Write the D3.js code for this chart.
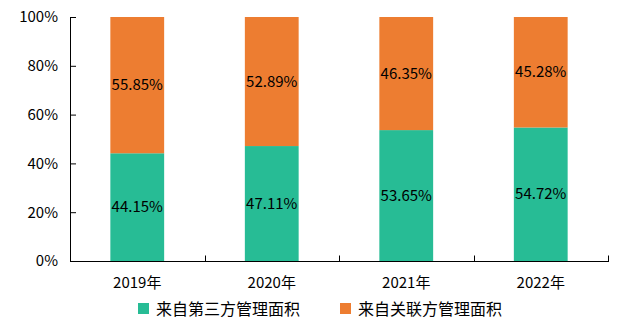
<!DOCTYPE html>
<html>
<head>
<meta charset="utf-8">
<script src="https://cdn.jsdelivr.net/npm/d3@7"></script>
<style>
  html, body { margin: 0; padding: 0; background: #fff; }
  svg text { font-family: "Noto Sans CJK SC", sans-serif; fill: #000; }
</style>
</head>
<body>
<svg id="chart" width="623" height="324"></svg>
<script>
// Share of managed area by source, per year (percent)
const years = ["2019年", "2020年", "2021年", "2022年"];
const thirdParty = [44.15, 47.11, 53.65, 54.72];
const related = [55.85, 52.89, 46.35, 45.28];
const seriesNames = ["来自第三方管理面积", "来自关联方管理面积"];
const yTicks = [0, 20, 40, 60, 80, 100];

const colors = ["#27BC95", "#ED7D31"];

const svg = d3.select("#chart");
const m = { left: 70, right: 608, top: 17, bottom: 261 };

const x = d3.scaleBand().domain(years).range([m.left, m.right]).paddingInner(0.6).paddingOuter(0.3);
const band = d3.scaleBand().domain(years).range([m.left, m.right]);
const y = d3.scaleLinear().domain([0, 100]).range([m.bottom, m.top]);

const rows = years.map((yr, i) => ({ year: yr, third: thirdParty[i], related: related[i] }));
const stacked = d3.stack().keys(["third", "related"])(rows);

// Bars
stacked.forEach((layer, li) => {
  svg.append("g").selectAll("rect").data(layer).join("rect")
    .attr("x", d => x(d.data.year))
    .attr("width", x.bandwidth())
    .attr("y", d => y(d[1]))
    .attr("height", d => y(d[0]) - y(d[1]))
    .attr("fill", colors[li]);
  svg.append("g").selectAll("text").data(layer).join("text")
    .attr("x", d => x(d.data.year) + x.bandwidth() / 2)
    .attr("y", d => (y(d[0]) + y(d[1])) / 2)
    .attr("dy", "0.35em")
    .attr("text-anchor", "middle")
    .style("font-size", "15px")
    .text(d => (d[1] - d[0]).toFixed(2) + "%");
});

// Y axis
const yAxis = d3.axisLeft(y).tickValues(yTicks).tickSize(-6).tickPadding(12).tickFormat(d => d + "%");
const gy = svg.append("g").attr("transform", `translate(${m.left},0)`).call(yAxis);
gy.select(".domain").attr("d", `M0.5,${m.top}V${m.bottom}`).attr("stroke", "#000");
gy.selectAll(".tick line").attr("stroke", "#000");
gy.selectAll(".tick text").style("font-size", "15px").attr("font-family", null);

// X axis with ticks at band boundaries
const gx = svg.append("g").attr("transform", `translate(0,${m.bottom + 0.5})`);
gx.append("line").attr("x1", m.left).attr("x2", m.right + 1).attr("stroke", "#000");
const bounds = years.map(yr => band(yr)).concat([m.right]);
gx.selectAll("line.tk").data(bounds).join("line").attr("class", "tk")
  .attr("x1", d => Math.round(d) + 0.5).attr("x2", d => Math.round(d) + 0.5)
  .attr("y1", 0).attr("y2", -6).attr("stroke", "#000");
gx.selectAll("text").data(years).join("text")
  .attr("x", d => x(d) + x.bandwidth() / 2)
  .attr("y", 26)
  .attr("text-anchor", "middle")
  .style("font-size", "15px")
  .text(d => d);

// Legend
const legendX = [138, 340];
const lg = svg.append("g");
seriesNames.forEach((name, i) => {
  lg.append("rect").attr("x", legendX[i]).attr("y", 303).attr("width", 11).attr("height", 11).attr("fill", colors[i]);
  lg.append("text").attr("x", legendX[i] + 18).attr("y", 309).attr("dy", "0.35em")
    .style("font-size", "16px").text(name);
});
</script>
</body>
</html>
